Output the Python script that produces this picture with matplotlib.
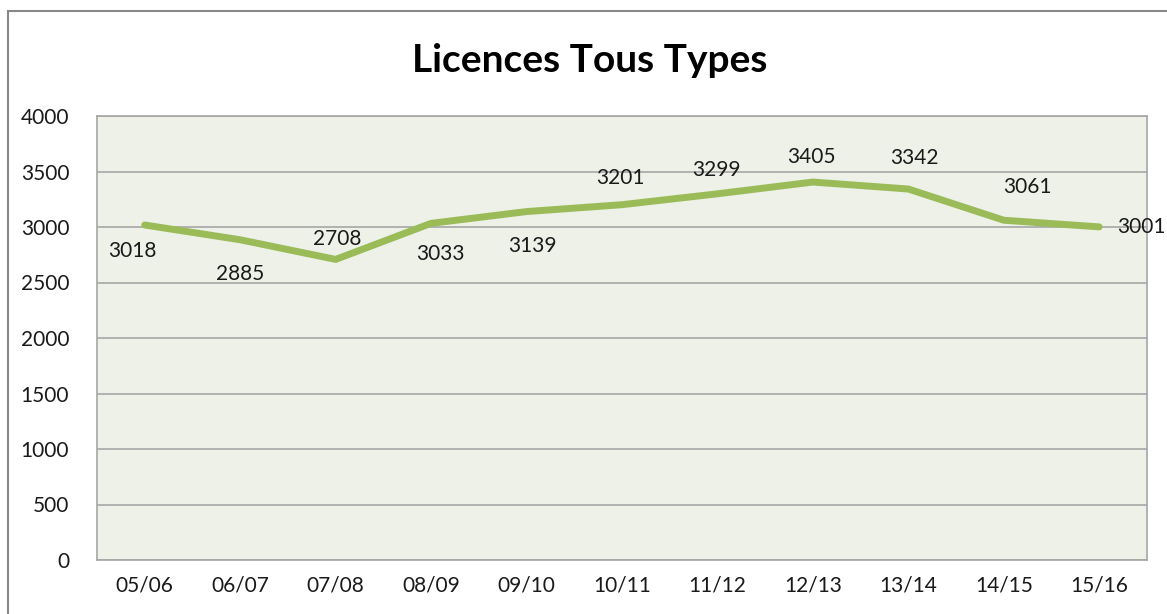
import matplotlib
matplotlib.use("Agg")
import matplotlib.pyplot as plt
from matplotlib.patches import Rectangle

# saisons et nombre de licences
saisons = ["05/06", "06/07", "07/08", "08/09", "09/10", "10/11",
           "11/12", "12/13", "13/14", "14/15", "15/16"]
licences = [3018, 2885, 2708, 3033, 3139, 3201, 3299, 3405, 3342, 3061, 3001]

# décalage des étiquettes (en points) pour chaque valeur
lab_dx = [-9, 0, 1, 7, 4, -1, -1, -1, 4, 17, 30]
lab_dy = [-19, -25, 15, -22, -25, 19, 17, 18, 22, 24, 0]

plt.rcParams['font.family'] = ['Lato', 'DejaVu Sans']

fig = plt.figure(figsize=(11.67, 6.14), dpi=100)
ax = fig.add_axes([97/1167, 1-560/614, 1050/1167, 444/614])

x = list(range(len(saisons)))
ax.plot(x, licences, color='#9BBB59', linewidth=5, solid_joinstyle='round',
        solid_capstyle='round', zorder=3, clip_on=False)

for i, v in enumerate(licences):
    ax.annotate(str(v), (x[i], v), xytext=(lab_dx[i], lab_dy[i]),
                textcoords='offset points', ha='center', va='center',
                fontsize=15, color='#1a1a1a', zorder=4, annotation_clip=False)

ax.set_xlim(-0.5, len(saisons) - 0.5)
ax.set_ylim(0, 4000)
ax.set_yticks(range(0, 4001, 500))
ax.set_xticks(x)
ax.set_xticklabels(saisons)
ax.set_facecolor('#EEF1E7')
ax.grid(axis='y', color='#A6A6A6', linewidth=1.2)
ax.set_axisbelow(True)
for s in ax.spines.values():
    s.set_color('#A6A6A6')
    s.set_linewidth(1.2)
ax.tick_params(axis='both', length=0, labelsize=15, colors='#1a1a1a')
ax.tick_params(axis='y', pad=20)
ax.tick_params(axis='x', pad=11)

fig.text(590/1167, 1-60/614, "Licences Tous Types", ha='center', va='center',
         fontsize=28, fontweight='bold', color='black')

# cadre extérieur du graphique
fig.patches.append(Rectangle((8/1167, -0.1), 1.2, 1 - 11/614 + 0.1,
                             transform=fig.transFigure, fill=False,
                             edgecolor='#888888', linewidth=1.5))

fig.savefig("out.png", dpi=100)
